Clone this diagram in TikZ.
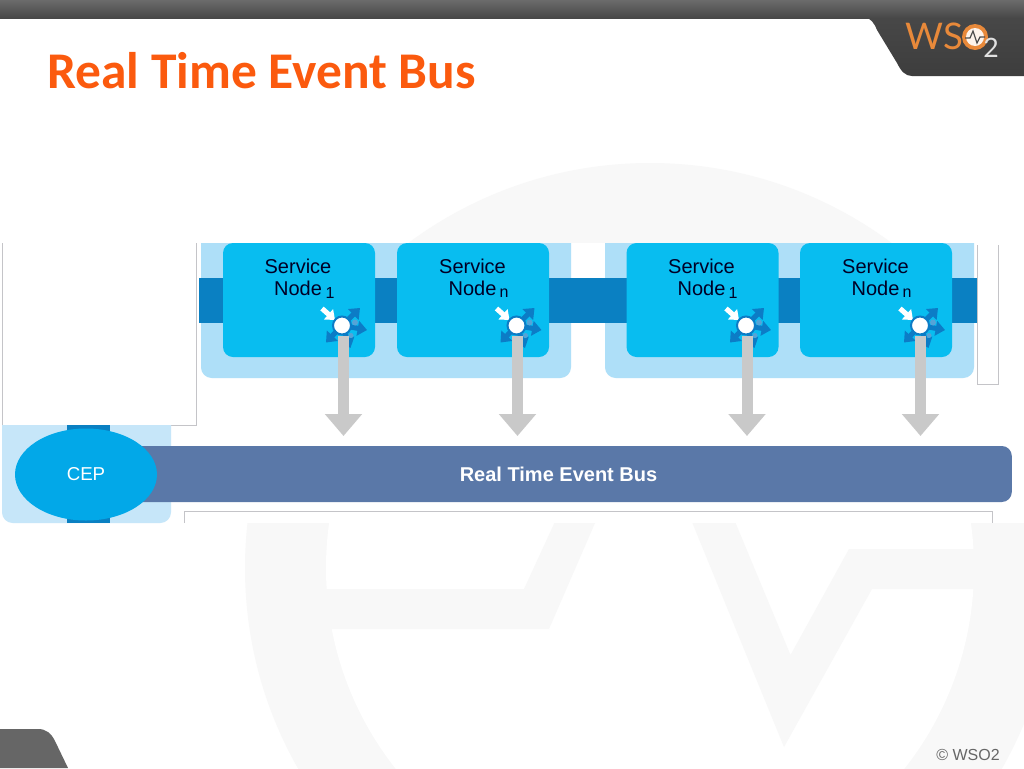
\documentclass[tikz,border=0pt]{standalone}
\usepackage{fontspec}
\setmainfont{Liberation Sans}
\newfontfamily\titlefont{Carlito}
\newfontfamily\logofont{Lato}
\usetikzlibrary{arrows.meta,shapes.geometric}
\definecolor{wmgray}{HTML}{F8F8F8}
\definecolor{titleorange}{HTML}{FB5A0E}
\definecolor{logoorange}{HTML}{E8893A}
\definecolor{palebox}{HTML}{AEDFF8}
\definecolor{palecep}{HTML}{C6E6F9}
\definecolor{bandblue}{HTML}{0A80C2}
\definecolor{svcblue}{HTML}{08BDF0}
\definecolor{cepblue}{HTML}{02A8E8}
\definecolor{busblue}{HTML}{5A78A8}
\definecolor{hubblue}{HTML}{0C7CC6}
\definecolor{arrowgray}{HTML}{C9C9C9}
\definecolor{edgegray}{HTML}{C4C4C8}
\tikzset{
svcbox/.style={fill=svcblue,rounded corners=7.5pt,minimum width=114pt,minimum height=85.5pt,inner sep=0pt},
svctext/.style={text=black!85!blue,font=\fontsize{15}{16.5}\selectfont,align=center,inner sep=0pt},
subtext/.style={text=black!85!blue,font=\fontsize{12}{13}\selectfont,inner sep=0pt},
busbar/.style={fill=busblue,rounded corners=7.5pt,minimum width=680pt,minimum height=42pt,text=white,font=\fontsize{15}{16}\selectfont\bfseries,inner sep=0pt},
cepnode/.style={ellipse,fill=cepblue,minimum width=106.5pt,minimum height=69pt,text=white,font=\fontsize{14}{15}\selectfont,inner sep=0pt},
busarrow/.style={draw=arrowgray,line width=8.25pt,-{Triangle[width=27pt,length=16.5pt]}},
hubarrow/.style={draw=hubblue,line width=3.8pt,-{Triangle[width=11pt,length=7pt]}},
inarrow/.style={draw=white,line width=3.8pt,-{Triangle[width=10pt,length=6.5pt]}},
edgeline/.style={draw=edgegray,line width=0.6pt},
hub/.pic={
\draw[hubarrow] (0,0) -- (18,-17.5);
\draw[hubarrow] (0,0) -- (25,4.5);
\draw[hubarrow] (0,0) -- (8.5,22.5);
\draw[hubarrow] (0,0) -- (-16,17);
\fill[hubblue!70!white] (13,-3) circle (3);
\fill[hubblue!70!white] (9,10) circle (2.5);
\draw[inarrow] (-20,-17) -- (-7,-5.5);
\node[circle,fill=white,draw=hubblue,line width=1.5pt,minimum size=13.5pt,inner sep=0pt] (-c) at (0,0) {};
}
}
\begin{document}
\begin{tikzpicture}[x=0.75pt,y=-0.75pt]
\useasboundingbox (0,0) rectangle (1024,768);
\fill[white] (0,0) rectangle (1024,768);
\fill[wmgray] (650,568) circle (405);
\fill[white] (650,568) circle (324);
\fill[wmgray] (320,589) -- (524,589) -- (565,500) -- (605,500) -- (549,629) -- (320,629) -- cycle;
\fill[wmgray] (683,500) -- (784,747) -- (872,589) -- (980,589) -- (980,549) -- (849,549) -- (790.5,655) -- (726,500) -- cycle;
\fill[white] (0,243) rectangle (1024,523);
\shade[top color=black!58!white,bottom color=black!72!white] (0,0) rectangle (1024,18);
\shade[top color=black!72!white,bottom color=black!76!white] (865,18) .. controls (871,18) and (874,23) .. (877,30) -- (897,63) .. controls (901,71) and (905,76) .. (912,76) -- (1024,76) -- (1024,18) -- cycle;
\node[text=logoorange,font=\logofont\fontsize{27.5}{28}\selectfont,anchor=west,inner sep=0pt] (logows) at (905,36) {WS};
\fill[logoorange] (975,37) circle (13);
\fill[white!90!logoorange] (975,37) circle (9);
\draw[black!70!white,line width=0.9pt] (965,38) -- (970,38) -- (973,31) -- (977,43) -- (980,37) -- (985,37);
\node[text=white!88!black,font=\logofont\fontsize{20}{21}\selectfont,inner sep=0pt] (logotwo) at (991,48) {2};
\node[text=titleorange,font=\titlefont\bfseries\fontsize{38.6}{40}\selectfont,anchor=west,inner sep=0pt] (title) at (47,71) {Real Time Event Bus};
\fill[black!60!white] (0,768) -- (0,729) -- (38,729) .. controls (46,729) and (51,733) .. (55,741) -- (68,768) -- cycle;
\node[text=black!60!white,font=\fontsize{12}{13}\selectfont,inner sep=0pt] (copy) at (968,755) {© WSO2};
\draw[edgeline] (2,243) -- (2,425) -- (196,425) -- (196,243);
\draw[edgeline] (977,245) -- (977,384) -- (998,384) -- (998,245);
\draw[edgeline] (184,523) -- (184,511) -- (992,511) -- (992,523);
\fill[palebox] (201,243) [rounded corners=8pt] -- (201,378) -- (571,378) [sharp corners] -- (571,243) -- cycle;
\fill[palebox] (605,243) [rounded corners=8pt] -- (605,378) -- (974,378) [sharp corners] -- (974,243) -- cycle;
\fill[bandblue] (199,278) rectangle (977,323);
\node[svcbox] (svc1) at (299,300) {};
\node[svcbox] (svc2) at (473,300) {};
\node[svcbox] (svc3) at (702.5,300) {};
\node[svcbox] (svc4) at (876,300) {};
\node[svctext] (name1) at (298,277) {Service\\Node};
\node[svctext] (name2) at (472.5,277) {Service\\Node};
\node[svctext] (name3) at (701.5,277) {Service\\Node};
\node[svctext] (name4) at (875.5,277) {Service\\Node};
\node[subtext] (sub1) at (330,293) {1};
\node[subtext] (sub2) at (504,293) {n};
\node[subtext] (sub3) at (733,293) {1};
\node[subtext] (sub4) at (907,293) {n};
\pic (hub1) at (342,325.5) {hub};
\pic (hub2) at (516.5,325.5) {hub};
\pic (hub3) at (746,325.5) {hub};
\pic (hub4) at (920,325.5) {hub};
\coordinate (tip1) at (343.5,436);
\coordinate (tip2) at (517.5,436);
\coordinate (tip3) at (747,436);
\coordinate (tip4) at (920.5,436);
\draw[busarrow] (hub1-c.south -| tip1) -- (tip1);
\draw[busarrow] (hub2-c.south -| tip2) -- (tip2);
\draw[busarrow] (hub3-c.south -| tip3) -- (tip3);
\draw[busarrow] (hub4-c.south -| tip4) -- (tip4);
\fill[palecep] (2,425) [rounded corners=8pt] -- (2,523) -- (171,523) [sharp corners] -- (171,425) -- cycle;
\fill[bandblue] (67,425) rectangle (110,523);
\node[busbar] (bus) at (558.5,474) {Real Time Event Bus};
\node[cepnode] (cep) at (86,474.5) {CEP};
\end{tikzpicture}
\end{document}
